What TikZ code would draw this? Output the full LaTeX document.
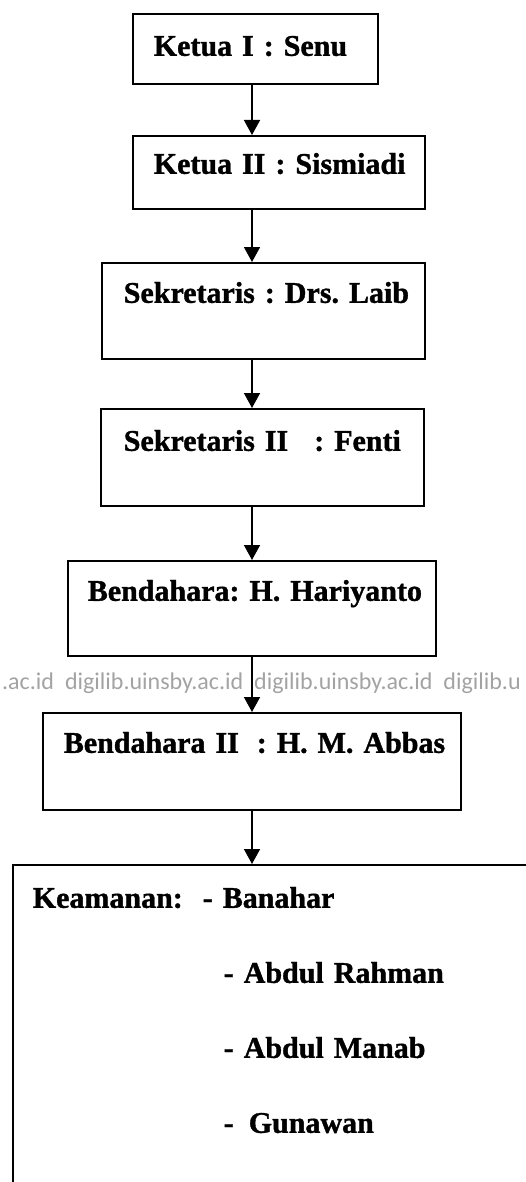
\documentclass[tikz,border=0pt]{standalone}
\usepackage{fontspec}
\setmainfont{Liberation Serif}[BoldFeatures = {FakeBold = 1.2}]
\newfontfamily\stampfont{Carlito}
\usetikzlibrary{arrows.meta}
\frenchspacing

\tikzset{
    unit/.style = {draw = black, line width = 1.6pt, anchor = north west, align = left,
        inner ysep = 0pt, font = \fontsize{30}{75}\selectfont\bfseries},
    link/.style = {draw = black, line width = 1.6pt, -{Triangle[length = 15pt, width = 16pt]}},
    stamp/.style = {text = black!36, anchor = base west, inner sep = 0pt,
        font = \stampfont\fontsize{24}{28}\selectfont}
}

\begin{document}
\begin{tikzpicture}[x = 1pt, y = -1pt]
        \clip (0,0) rectangle (526,1182);
        \fill[white] (0,0) rectangle (526,1182);
        \node[unit, inner xsep = 21pt, text width = 203pt, text height = 42pt, text depth = 28pt] (b1) at (132,13) {\mbox{Ketua I : Senu}};
        \node[unit, inner xsep = 21pt, text width = 250pt, text height = 38pt, text depth = 35pt] (b2) at (132,135) {\mbox{Ketua II : Sismiadi}};
        \node[unit, inner xsep = 22pt, text width = 279pt, text height = 40pt, text depth = 56pt] (b3) at (101,262) {\mbox{Sekretaris : Drs. Laib}};
        \node[unit, inner xsep = 23pt, text width = 277pt, text height = 42pt, text depth = 55pt] (b4) at (100,408) {\mbox{Sekretaris II\hspace{26pt}: Fenti}};
        \node[unit, inner xsep = 20pt, text width = 328pt, text height = 40pt, text depth = 55pt] (b5) at (67,560) {\mbox{Bendahara: H. Hariyanto}};
        \node[unit, inner xsep = 21pt, text width = 376pt, text height = 40pt, text depth = 57pt] (b6) at (42,712) {\mbox{Bendahara II\hspace{18pt}: H. M. Abbas}};
        \node[unit, inner xsep = 20pt, text width = 480pt, text height = 43pt, text depth = 300pt] (b7) at (12,864) {Keamanan:\hspace{20pt}- Banahar\\
            \hspace*{191pt}- Abdul Rahman\\
            \hspace*{191pt}- Abdul Manab\\
            \hspace*{191pt}-\hspace{5pt} Gunawan};
        % watermark of the scan
        \node[stamp] (wm) at (2,689) {.ac.id\hspace{11pt}digilib.uinsby.ac.id\hspace{11pt}digilib.uinsby.ac.id\hspace{11pt}digilib.u};
        \coordinate (spine) at (252,0);
        \draw[link] (b1.south -| spine) -- (b2.north -| spine);
        \draw[link] (b2.south -| spine) -- (b3.north -| spine);
        \draw[link] (b3.south -| spine) -- (b4.north -| spine);
        \draw[link] (b4.south -| spine) -- (b5.north -| spine);
        \draw[link] (b5.south -| spine) -- (b6.north -| spine);
        \draw[link] (b6.south -| spine) -- (b7.north -| spine);
    \end{tikzpicture}
\end{document}
